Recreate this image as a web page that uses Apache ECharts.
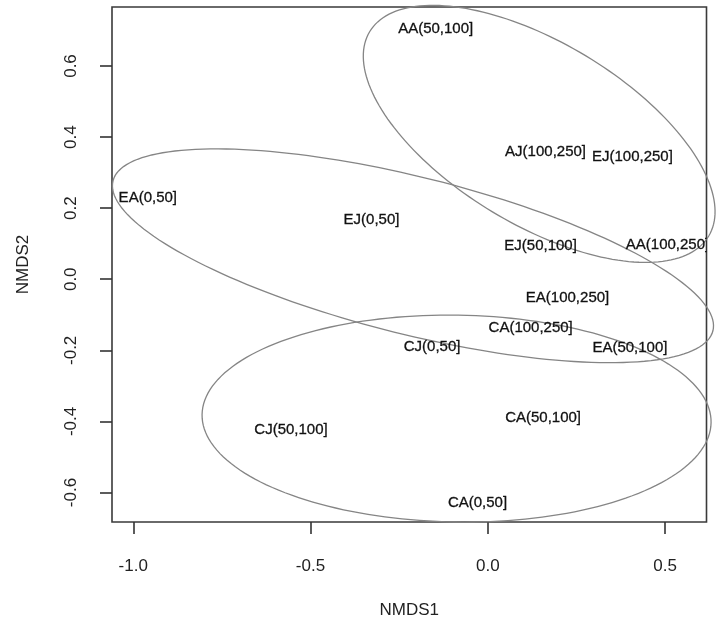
<!DOCTYPE html>
<html>
<head>
<meta charset="utf-8">
<title>NMDS ordination</title>
<script src="https://cdn.jsdelivr.net/npm/echarts@6/dist/echarts.min.js"></script>
<style>
  html, body { margin: 0; padding: 0; background: #fff; }
  #chart { width: 717px; height: 640px; }
</style>
</head>
<body>
<div id="chart"></div>
<script>
// Sample labels and their NMDS scores
const sampleLabels = [
  'AA(50,100]', 'AJ(100,250]', 'EJ(100,250]', 'EA(0,50]', 'EJ(0,50]',
  'EJ(50,100]', 'AA(100,250]', 'EA(100,250]', 'CA(100,250]', 'CJ(0,50]',
  'EA(50,100]', 'CA(50,100]', 'CJ(50,100]', 'CA(0,50]'
];
const nmds1 = [-0.147, 0.163, 0.408, -0.959, -0.328, 0.149, 0.507, 0.225, 0.121, -0.157, 0.401, 0.156, -0.555, -0.029];
const nmds2 = [0.704, 0.358, 0.344, 0.229, 0.167, 0.094, 0.096, -0.053, -0.137, -0.190, -0.193, -0.390, -0.424, -0.629];

// Group ellipses: centre, semi-axes and rotation (degrees, counter-clockwise)
const ellipseGroups = ['A', 'E', 'C'];
const ellipseCX = [0.145, -0.211, -0.088];
const ellipseCY = [0.409, 0.066, -0.392];
const ellipseA = [0.558, 0.872, 0.718];
const ellipseB = [0.256, 0.221, 0.291];
const ellipseAngle = [-31.0, -14.0, -0.9];

// Axis ticks
const xTicks = [-1.0, -0.5, 0.0, 0.5];
const yTicks = [-0.6, -0.4, -0.2, 0.0, 0.2, 0.4, 0.6];

const FONT = "'Liberation Sans', Arial, sans-serif";

const ellipseData = ellipseGroups.map((g, i) =>
  [ellipseCX[i], ellipseCY[i], ellipseA[i], ellipseB[i], ellipseAngle[i]]);
const pointData = sampleLabels.map((t, i) => [nmds1[i], nmds2[i], t]);

function renderEllipse(params, api) {
  const cx = api.value(0), cy = api.value(1);
  const a = api.value(2), b = api.value(3);
  const th = api.value(4) * Math.PI / 180;
  const pts = [];
  const n = 180;
  for (let k = 0; k < n; k++) {
    const t = 2 * Math.PI * k / n;
    const ex = a * Math.cos(t), ey = b * Math.sin(t);
    const x = cx + ex * Math.cos(th) - ey * Math.sin(th);
    const y = cy + ex * Math.sin(th) + ey * Math.cos(th);
    pts.push(api.coord([x, y]));
  }
  return {
    type: 'polygon',
    shape: { points: pts },
    style: { fill: 'none', stroke: '#858585', lineWidth: 1.3 }
  };
}

// Sample names are clipped to the plotting box
function renderLabel(params, api) {
  const p = api.coord([api.value(0), api.value(1)]);
  const cs = params.coordSys;
  return {
    type: 'group',
    clipPath: { type: 'rect', shape: { x: cs.x, y: cs.y, width: cs.width, height: cs.height } },
    children: [{
      type: 'text',
      x: p[0], y: p[1],
      style: {
        text: sampleLabels[params.dataIndex],
        align: 'center', verticalAlign: 'middle',
        fontFamily: FONT, fontSize: 15,
        fill: '#111', stroke: '#111', lineWidth: 0.3
      }
    }]
  };
}

const chart = echarts.init(document.getElementById('chart'), null, { renderer: 'canvas' });
chart.setOption({
  animation: false,
  backgroundColor: '#fff',
  grid: {
    left: 112, right: 10.5, top: 7, bottom: 118,
    show: true, borderColor: '#3a3a3a', borderWidth: 1.6, backgroundColor: 'transparent'
  },
  xAxis: {
    type: 'value', min: -1.060, max: 0.617,
    name: 'NMDS1', nameLocation: 'middle', nameGap: 80,
    nameTextStyle: { fontFamily: FONT, fontSize: 17, color: '#222' },
    axisLine: { show: false, onZero: false },
    splitLine: { show: false },
    axisTick: { show: true, length: 12, inside: false, customValues: xTicks,
      lineStyle: { color: '#333', width: 1.6 } },
    axisLabel: { customValues: xTicks, margin: 36, fontFamily: FONT, fontSize: 17, color: '#222',
      formatter: v => v.toFixed(1) }
  },
  yAxis: {
    type: 'value', min: -0.683, max: 0.766,
    name: 'NMDS2', nameLocation: 'middle', nameGap: 80, nameRotate: 90,
    nameTextStyle: { fontFamily: FONT, fontSize: 17, color: '#222' },
    axisLine: { show: false, onZero: false },
    splitLine: { show: false },
    axisTick: { show: true, length: 12, inside: false, customValues: yTicks,
      lineStyle: { color: '#333', width: 1.6 } },
    axisLabel: { customValues: yTicks, margin: 32, rotate: 90, fontFamily: FONT, fontSize: 17, color: '#222',
      formatter: v => v.toFixed(1) }
  },
  series: [
    {
      type: 'custom', name: 'ellipses', clip: false, silent: true,
      renderItem: renderEllipse, data: ellipseData
    },
    {
      type: 'custom', name: 'samples', clip: true, silent: true,
      renderItem: renderLabel, data: pointData
    }
  ]
});
</script>
</body>
</html>
